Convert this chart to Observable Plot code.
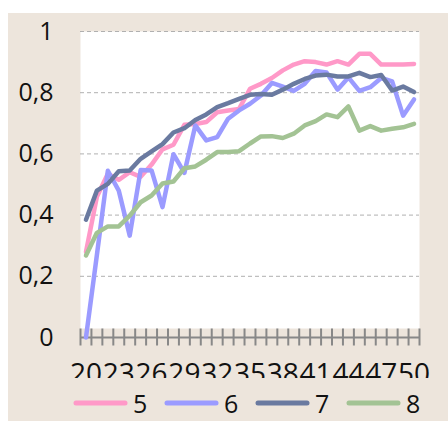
<!DOCTYPE html>
<html>
<head>
<meta charset="utf-8">
<script src="https://cdn.jsdelivr.net/npm/d3@7"></script>
<script src="https://cdn.jsdelivr.net/npm/@observablehq/plot@0.6"></script>
<style>
  html, body { margin: 0; padding: 0; background: #ffffff; }
  #wrap { position: absolute; left: 8px; top: 13px; width: 440px; height: 408px; background: #ede5dc; font-family: "Open Sans", sans-serif; }
  #chart svg { display: block; }
  #legend { position: absolute; left: 0; top: 372px; width: 440px; height: 36px; }
  .item { position: absolute; top: 0; display: flex; align-items: center; height: 36px; }
  .item span { font-size: 25px; color: #111; margin-left: 5px; line-height: 36px; }
</style>
</head>
<body>
<div id="wrap">
  <div id="chart"></div>
  <div id="legend"></div>
</div>
<script>
const xValues = d3.range(20, 51);
const seriesNames = ["5", "6", "7", "8"];
const colors = ["#ff99c8", "#9b9bff", "#6a7aa0", "#a3c394"];
const s5 = [0.28, 0.46, 0.535, 0.515, 0.54, 0.525, 0.565, 0.615, 0.63, 0.695, 0.698, 0.704, 0.736, 0.742, 0.747, 0.813, 0.829, 0.848, 0.873, 0.892, 0.903, 0.900, 0.892, 0.903, 0.892, 0.927, 0.927, 0.892, 0.892, 0.892, 0.894];
const s6 = [0, 0.27, 0.545, 0.48, 0.333, 0.547, 0.546, 0.426, 0.599, 0.538, 0.693, 0.644, 0.655, 0.715, 0.742, 0.764, 0.791, 0.832, 0.82, 0.806, 0.829, 0.871, 0.866, 0.81, 0.85, 0.806, 0.818, 0.848, 0.837, 0.725, 0.778];
const s7 = [0.385, 0.48, 0.502, 0.543, 0.546, 0.584, 0.608, 0.632, 0.67, 0.684, 0.711, 0.729, 0.753, 0.766, 0.78, 0.793, 0.796, 0.793, 0.81, 0.829, 0.845, 0.856, 0.859, 0.853, 0.853, 0.865, 0.851, 0.858, 0.807, 0.82, 0.802];
const s8 = [0.268, 0.342, 0.363, 0.363, 0.398, 0.442, 0.464, 0.503, 0.51, 0.553, 0.559, 0.581, 0.606, 0.606, 0.609, 0.634, 0.657, 0.658, 0.652, 0.666, 0.693, 0.707, 0.729, 0.72, 0.755, 0.676, 0.691, 0.676, 0.682, 0.687, 0.698];
const yTicks = [0, 0.2, 0.4, 0.6, 0.8, 1];
const xLabelTicks = [20, 23, 26, 29, 32, 35, 38, 41, 44, 47, 50];

const allSeries = [s5, s6, s7, s8];
const data = allSeries.flatMap((vals, k) => vals.map((v, i) => ({x: xValues[i], y: v, s: seriesNames[k]})));
const edges = d3.range(xValues[0] - 0.5, xValues[xValues.length - 1] + 1, 1);

const chart = Plot.plot({
  width: 440,
  height: 365,
  marginLeft: 72,
  marginRight: 29,
  marginTop: 18,
  marginBottom: 41,
  style: {background: "transparent", fontFamily: "Open Sans", color: "#111", overflow: "hidden"},
  x: {domain: [edges[0], edges[edges.length - 1]], axis: null, label: null},
  y: {domain: [0, 1], axis: null, label: null},
  color: {domain: seriesNames, range: colors},
  marks: [
    Plot.frame({fill: "white", stroke: null, insetBottom: 9}),
    Plot.gridY(yTicks.filter(d => d > 0), {stroke: "#b0b0b0", strokeOpacity: 1, strokeDasharray: "4,3"}),
    Plot.ruleY([0], {stroke: "#888", strokeWidth: 2}),
    Plot.ruleX(edges, {x: d => d, y1: 0, y2: 0, insetTop: -8.5, insetBottom: -8.5, stroke: "#888", strokeWidth: 2}),
    Plot.axisY(yTicks, {tickSize: 0, tickPadding: 27, fontSize: 25, label: null, tickFormat: d => String(d).replace(".", ",")}),
    Plot.axisX(xLabelTicks, {tickSize: 0, tickPadding: 26, fontSize: 28, label: null, tickFormat: d => String(d)}),
    Plot.lineY(data, {x: "x", y: "y", stroke: "s", z: "s", strokeWidth: 4.5})
  ]
});
document.getElementById("chart").appendChild(chart);

const legend = document.getElementById("legend");
seriesNames.forEach((name, k) => {
  const item = document.createElement("div");
  item.className = "item";
  item.style.left = (65 + k * 91) + "px";
  item.innerHTML = `<svg width="55" height="10"><line x1="3" y1="5" x2="52" y2="5" stroke="${colors[k]}" stroke-width="5" stroke-linecap="round"/></svg><span>${name}</span>`;
  legend.appendChild(item);
});
</script>
</body>
</html>
